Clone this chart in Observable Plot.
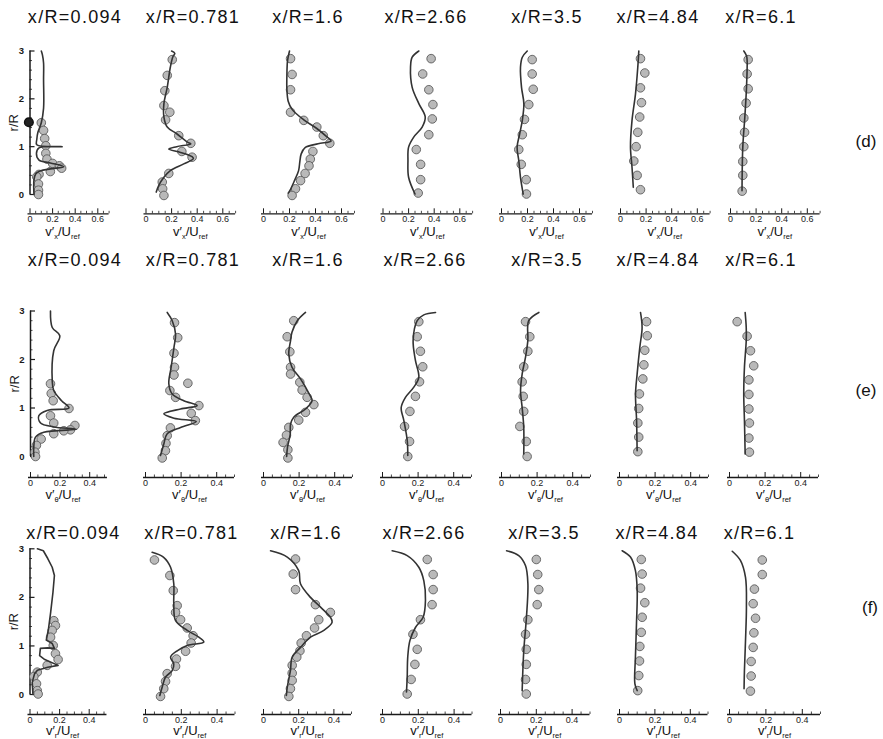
<!DOCTYPE html>
<html><head><meta charset="utf-8">
<script src="https://cdn.jsdelivr.net/npm/d3@7"></script>
<script src="https://cdn.jsdelivr.net/npm/@observablehq/plot@0.6"></script>
<style>
body{margin:0;background:#fff;}
#fig{position:relative;width:883px;height:739px;overflow:hidden;background:#fff;font-family:"Liberation Sans",Arial,Helvetica,sans-serif;color:#111;}
.ttl{position:absolute;font-size:18px;letter-spacing:1.3px;white-space:nowrap;transform:translate(-50%,-50%);line-height:1;}
.xl{position:absolute;font-size:13px;white-space:nowrap;transform:translate(-50%,-50%);line-height:1;}
.xl sub{font-size:7.5px;vertical-align:-3px;}
.tag{position:absolute;font-size:17px;transform:translate(-50%,-50%);line-height:1;}
.pl{position:absolute;}
.pl svg{display:block;overflow:visible;}
</style></head><body><div id="fig"></div>
<script>
// ---------- data ----------
const stations = ["0.094","0.781","1.6","2.66","3.5","4.84","6.1"];
const rowTags = ["(d)","(e)","(f)"];
const xComponents = ["x","θ","r"];
const xTickLabels = [[0,0.2,0.4,0.6],[0,0.2,0.4],[0,0.2,0.4]];
const yTickLabels = [0,1,2,3];

// row (d): v'_x/U_ref   [value, r/R]
const dLines = [
 [[0.10,3.0],[0.11,2.92],[0.12,2.75],[0.12,2.4],[0.12,1.8],[0.10,1.5],[0.07,1.3],[0.06,1.15],[0.06,1.04],[0.285,1.0],[0.08,0.975],[0.057,0.86],[0.08,0.72],[0.18,0.66],[0.30,0.58],[0.18,0.535],[0.09,0.49],[0.05,0.43],[0.035,0.3],[0.035,0.0]],
 [[0.20,3.0],[0.225,2.95],[0.21,2.88],[0.19,2.66],[0.166,2.24],[0.14,1.9],[0.14,1.62],[0.166,1.41],[0.24,1.27],[0.32,1.1],[0.35,1.06],[0.24,1.0],[0.178,0.95],[0.27,0.88],[0.36,0.79],[0.37,0.75],[0.295,0.64],[0.19,0.50],[0.14,0.36],[0.10,0.19],[0.08,0.05]],
 [[0.20,3.0],[0.185,2.8],[0.18,2.5],[0.18,2.2],[0.19,1.95],[0.22,1.78],[0.31,1.56],[0.41,1.38],[0.49,1.2],[0.52,1.12],[0.42,1.06],[0.32,0.98],[0.29,0.85],[0.28,0.7],[0.27,0.5],[0.24,0.3],[0.21,0.12],[0.19,0.03]],
 [[0.28,3.0],[0.228,2.87],[0.215,2.66],[0.228,2.24],[0.28,1.9],[0.33,1.62],[0.306,1.41],[0.24,1.2],[0.20,0.99],[0.195,0.71],[0.20,0.36],[0.25,0.01]],
 [[0.198,3.0],[0.16,2.87],[0.146,2.66],[0.154,2.24],[0.172,1.9],[0.16,1.55],[0.14,1.27],[0.12,0.99],[0.133,0.71],[0.146,0.36],[0.167,0.01]],
 [[0.143,3.0],[0.135,2.66],[0.117,2.1],[0.09,1.55],[0.078,0.99],[0.09,0.57],[0.10,0.15]],
 [[0.104,3.0],[0.125,2.9],[0.13,2.8],[0.125,2.24],[0.112,1.62],[0.096,0.99],[0.09,0.08]]
];
const dPoints = [
 [[0.10,1.50],[0.12,1.34],[0.13,1.17],[0.14,1.02],[0.14,0.86],[0.15,0.74],[0.20,0.65],[0.26,0.60],[0.28,0.55],[0.18,0.48],[0.08,0.42],[0.06,0.37],[0.075,0.22],[0.075,0.09],[0.075,0.0]],
 [[0.205,2.82],[0.166,2.49],[0.147,2.17],[0.14,1.86],[0.186,1.72],[0.153,1.56],[0.256,1.23],[0.35,1.07],[0.28,0.90],[0.36,0.78],[0.178,0.44],[0.127,0.26],[0.13,0.12],[0.14,-0.02]],
 [[0.208,2.84],[0.22,2.51],[0.208,2.19],[0.208,1.72],[0.31,1.55],[0.41,1.41],[0.46,1.23],[0.51,1.07],[0.38,0.90],[0.36,0.74],[0.35,0.60],[0.32,0.44],[0.285,0.29],[0.246,0.12],[0.22,-0.02]],
 [[0.376,2.84],[0.31,2.52],[0.358,2.19],[0.39,1.88],[0.385,1.58],[0.358,1.25],[0.26,0.94],[0.294,0.63],[0.294,0.31],[0.275,0.03]],
 [[0.236,2.82],[0.236,2.52],[0.244,2.2],[0.21,1.88],[0.177,1.57],[0.16,1.25],[0.133,0.94],[0.152,0.63],[0.19,0.31],[0.192,0.01]],
 [[0.156,2.84],[0.19,2.54],[0.156,2.23],[0.164,1.92],[0.15,1.62],[0.135,1.3],[0.122,1.0],[0.104,0.70],[0.13,0.40],[0.156,0.10]],
 [[0.138,2.82],[0.13,2.52],[0.138,2.21],[0.122,1.91],[0.104,1.6],[0.11,1.3],[0.104,1.0],[0.096,0.69],[0.096,0.40],[0.091,0.07]]
];
const dMarked = [[-0.01,1.51]];

// row (e): v'_θ/U_ref
const eLines = [
 [[0.135,3.0],[0.147,2.66],[0.198,2.49],[0.157,2.18],[0.147,1.56],[0.157,1.36],[0.21,1.15],[0.26,1.0],[0.113,0.95],[0.056,0.84],[0.068,0.69],[0.157,0.61],[0.31,0.56],[0.09,0.5],[0.034,0.4],[0.022,0.19],[0.022,0.0]],
 [[0.122,2.97],[0.15,2.8],[0.169,2.52],[0.16,2.25],[0.144,1.84],[0.131,1.5],[0.15,1.29],[0.215,1.15],[0.29,1.05],[0.197,0.98],[0.103,0.88],[0.16,0.79],[0.285,0.72],[0.197,0.60],[0.122,0.47],[0.103,0.26],[0.084,0.02]],
 [[0.236,2.97],[0.19,2.8],[0.16,2.56],[0.152,2.39],[0.142,2.11],[0.16,1.84],[0.208,1.6],[0.255,1.3],[0.273,1.15],[0.236,0.98],[0.17,0.81],[0.152,0.67],[0.15,0.45],[0.135,0.2],[0.13,0.0]],
 [[0.298,2.97],[0.232,2.92],[0.195,2.8],[0.172,2.39],[0.185,1.98],[0.204,1.63],[0.176,1.43],[0.129,1.22],[0.105,1.01],[0.12,0.74],[0.139,0.33],[0.142,0.02]],
 [[0.21,2.97],[0.153,2.8],[0.148,2.39],[0.135,2.05],[0.116,1.7],[0.107,1.36],[0.116,1.01],[0.125,0.6],[0.125,0.05]],
 [[0.118,2.97],[0.127,2.66],[0.114,2.25],[0.099,1.7],[0.09,1.29],[0.096,0.74],[0.099,0.12]],
 [[0.088,2.97],[0.094,2.66],[0.094,2.39],[0.084,1.84],[0.08,1.29],[0.084,0.74],[0.088,0.05]]
];
const ePoints = [
 [[0.135,1.5],[0.14,1.3],[0.153,1.15],[0.26,0.99],[0.135,0.84],[0.157,0.69],[0.30,0.64],[0.27,0.55],[0.225,0.53],[0.157,0.47],[0.072,0.36],[0.04,0.23],[0.03,0.09],[0.034,0.0]],
 [[0.163,2.76],[0.181,2.45],[0.16,2.13],[0.163,1.84],[0.16,1.68],[0.238,1.51],[0.137,1.36],[0.169,1.22],[0.30,1.05],[0.257,0.89],[0.28,0.74],[0.14,0.59],[0.122,0.43],[0.115,0.27],[0.112,0.12],[0.094,-0.03]],
 [[0.17,2.8],[0.133,2.47],[0.148,2.16],[0.152,1.84],[0.152,1.7],[0.204,1.53],[0.217,1.37],[0.245,1.22],[0.283,1.07],[0.236,0.91],[0.198,0.75],[0.142,0.6],[0.129,0.44],[0.11,0.29],[0.137,0.14],[0.137,-0.03]],
 [[0.204,2.78],[0.195,2.47],[0.213,2.17],[0.226,1.85],[0.208,1.54],[0.185,1.24],[0.154,0.93],[0.124,0.62],[0.152,0.31],[0.142,0.0]],
 [[0.135,2.78],[0.159,2.47],[0.148,2.17],[0.125,1.85],[0.116,1.54],[0.122,1.24],[0.125,0.93],[0.103,0.62],[0.139,0.31],[0.144,0.0]],
 [[0.152,2.78],[0.156,2.49],[0.142,2.19],[0.137,1.89],[0.131,1.6],[0.112,1.29],[0.108,0.99],[0.103,0.69],[0.108,0.40],[0.103,0.1]],
 [[0.043,2.78],[0.099,2.48],[0.118,2.18],[0.136,1.87],[0.109,1.58],[0.109,1.28],[0.109,0.98],[0.112,0.69],[0.109,0.38],[0.112,0.09]]
];

// row (f): v'_r/U_ref
const fLines = [
 [[0.05,3.0],[0.09,2.96],[0.12,2.8],[0.15,2.62],[0.165,2.45],[0.155,2.1],[0.14,1.7],[0.125,1.35],[0.11,1.12],[0.15,1.05],[0.165,0.95],[0.12,0.96],[0.07,0.95],[0.065,0.8],[0.1,0.72],[0.19,0.6],[0.12,0.56],[0.05,0.5],[0.03,0.42],[0.015,0.25],[0.02,0.0]],
 [[0.037,2.93],[0.10,2.83],[0.14,2.62],[0.158,2.28],[0.158,1.87],[0.168,1.52],[0.233,1.32],[0.298,1.18],[0.326,1.08],[0.233,1.01],[0.177,0.90],[0.14,0.77],[0.158,0.63],[0.149,0.49],[0.112,0.36],[0.093,0.15],[0.08,-0.02]],
 [[0.04,2.96],[0.135,2.83],[0.20,2.55],[0.21,2.28],[0.267,2.0],[0.324,1.8],[0.38,1.59],[0.39,1.49],[0.343,1.32],[0.267,1.18],[0.21,0.97],[0.163,0.77],[0.153,0.49],[0.135,0.15],[0.13,-0.02]],
 [[0.054,2.96],[0.138,2.86],[0.203,2.62],[0.231,2.34],[0.24,1.94],[0.227,1.59],[0.184,1.38],[0.153,1.11],[0.141,0.77],[0.138,0.36],[0.134,0.05]],
 [[0.034,2.96],[0.102,2.86],[0.14,2.65],[0.153,2.28],[0.145,1.59],[0.13,0.9],[0.121,0.08]],
 [[0.015,2.96],[0.062,2.83],[0.09,2.55],[0.10,2.14],[0.096,1.46],[0.09,0.77],[0.087,0.22],[0.10,0.08]],
 [[0.015,2.95],[0.06,2.76],[0.088,2.41],[0.093,1.8],[0.088,1.11],[0.082,0.49],[0.08,0.12]]
];
const fPoints = [
 [[0.161,1.52],[0.172,1.42],[0.15,1.32],[0.139,1.18],[0.157,1.01],[0.172,0.84],[0.19,0.72],[0.116,0.60],[0.049,0.46],[0.026,0.37],[0.044,0.22],[0.049,0.08],[0.055,0.01]],
 [[0.05,2.77],[0.136,2.45],[0.155,2.14],[0.177,1.83],[0.168,1.69],[0.196,1.54],[0.233,1.37],[0.266,1.21],[0.255,1.06],[0.224,0.89],[0.173,0.73],[0.168,0.58],[0.121,0.43],[0.112,0.27],[0.102,0.12],[0.084,-0.04]],
 [[0.182,2.79],[0.169,2.48],[0.182,2.16],[0.295,1.85],[0.38,1.69],[0.314,1.54],[0.29,1.37],[0.244,1.21],[0.214,1.06],[0.207,0.90],[0.189,0.77],[0.163,0.6],[0.163,0.44],[0.163,0.29],[0.153,0.12],[0.144,-0.04]],
 [[0.25,2.78],[0.283,2.47],[0.283,2.16],[0.277,1.85],[0.212,1.54],[0.17,1.24],[0.194,0.93],[0.181,0.62],[0.16,0.31],[0.138,0.01]],
 [[0.20,2.78],[0.208,2.47],[0.214,2.16],[0.205,1.85],[0.153,1.54],[0.14,1.24],[0.144,0.93],[0.144,0.62],[0.14,0.31],[0.144,0.01]],
 [[0.123,2.78],[0.128,2.48],[0.119,2.19],[0.143,1.89],[0.128,1.59],[0.123,1.28],[0.115,0.99],[0.113,0.69],[0.109,0.39],[0.103,0.08]],
 [[0.18,2.77],[0.18,2.47],[0.137,2.17],[0.13,1.87],[0.143,1.57],[0.134,1.27],[0.13,0.97],[0.119,0.68],[0.119,0.38],[0.115,0.07]]
];

// ---------- layout (pixels) ----------
const rowGeom = [
 {title:17,  r0:194, r3:50.5,  axis:213.3, xlab:233, tag:[866,141]},
 {title:260, r0:456, r3:310.5, axis:477,   xlab:496, tag:[866,390]},
 {title:533, r0:694, r3:548.3, axis:714,   xlab:732, tag:[870,607]}
];
const titleX = [[75,193,308,426,547,658,761],[75,193,308,425,547,658,761],[73.5,191.5,306,424,544,657,759.5]];
const panelX0 = [[29.5,145.5,263,382.5,501,620,730],[30,145,263,382,501,619,729],[29.5,145,263,382,500,619,729]];
const panelK = [[113,128,130,128,130,128,128],[148,178,178,178,178,178,178],[148,179,176,179,179,177,182]];
const rowXMax = [0.7,0.5,0.5];
const firstXMax = [0.7,0.52,0.52];

const allLines = [dLines, eLines, fLines];
const allPoints = [dPoints, ePoints, fPoints];

const fig = document.getElementById("fig");
function addDiv(cls, html, x, y){
  const d = document.createElement("div");
  d.className = cls; d.innerHTML = html;
  d.style.left = x + "px"; d.style.top = y + "px";
  fig.appendChild(d);
}

const FONT = '"Liberation Sans", Arial, Helvetica, sans-serif';
const INK = "#1a1a1a";

rowGeom.forEach((g, ri) => {
  addDiv("tag", rowTags[ri], g.tag[0], g.tag[1]);
  stations.forEach((s, i) => {
    addDiv("ttl", "x/R=" + s, titleX[ri][i], g.title);
    const x0 = panelX0[ri][i], k = panelK[ri][i];
    const xmax = i === 0 ? firstXMax[ri] : rowXMax[ri];
    const pxPerR = (g.r0 - g.r3) / 3;
    const yMin = -(g.axis - g.r0) / pxPerR;
    const top = Math.floor(g.r3 - 14);
    const mT = g.r3 - top;
    const height = Math.ceil(g.axis - top + 30);
    const mB = height - (g.axis - top);
    const frameW = xmax * k;
    const left = Math.floor(x0 - 38);
    const mL = x0 - left;
    const width = Math.ceil(mL + frameW + 12);
    const mR = width - mL - frameW;

    const majorX = xTickLabels[ri];
    const minorX = d3.range(0, xmax + 1e-9, 0.05).map(v => +v.toFixed(3)).filter(v => !majorX.some(m => Math.abs(m - v) < 1e-6));
    const marks = [
      Plot.ruleY([yMin], {x1: -2 / k, x2: xmax, stroke: INK, strokeWidth: 1.3}),
      Plot.ruleX(majorX, {x: d => d, y1: yMin, y2: yMin + 5 / pxPerR, stroke: INK, strokeWidth: 1}),
      Plot.ruleX(minorX, {x: d => d, y1: yMin, y2: yMin + 2.5 / pxPerR, stroke: INK, strokeWidth: 0.8}),
      Plot.axisX({ticks: majorX, tickSize: 0, tickPadding: 2, fontSize: 9, label: null,
                  tickFormat: d => d === 0 ? "0" : String(d)})
    ];
    if (i === 0) {
      const minorY = d3.range(0, 3.001, 0.2).map(v => +v.toFixed(2)).filter(v => !yTickLabels.some(m => Math.abs(m - v) < 1e-6));
      marks.push(
        Plot.ruleX([0], {y1: 0, y2: 3, stroke: INK, strokeWidth: 1.5}),
        Plot.ruleY(yTickLabels, {y: d => d, x1: 0, x2: 5 / k, stroke: INK, strokeWidth: 1.2}),
        Plot.ruleY(minorY, {y: d => d, x1: 0, x2: 2.5 / k, stroke: INK, strokeWidth: 0.8}),
        Plot.axisY({ticks: yTickLabels, tickSize: 0, tickPadding: 6, fontSize: 9.5, fontWeight: "bold", label: null,
                    tickFormat: d => String(d)}),
        Plot.text(["r/R"], {x: 0, y: 1.5, dx: -16, rotate: -90, fontSize: 13, fill: INK})
      );
    }
    marks.push(
      Plot.dot(allPoints[ri][i], {x: d => d[0], y: d => d[1], r: 4.3, fill: "#b9b9b9", stroke: "#5c5c5c", strokeWidth: 0.9})
    );
    if (ri === 0 && i === 0) {
      marks.push(Plot.dot(dMarked, {x: d => d[0], y: d => d[1], r: 4.3, fill: "#222", stroke: "#111"}));
    }
    marks.push(
      Plot.line(allLines[ri][i], {x: d => d[0], y: d => d[1], stroke: "#333", strokeWidth: 1.6,
        curve: (ri === 2 && i === 0) ? "linear" : "catmull-rom"})
    );

    const svg = Plot.plot({
      width, height,
      marginTop: mT, marginBottom: mB, marginLeft: mL, marginRight: mR,
      x: {domain: [0, xmax], axis: null},
      y: {domain: [yMin, 3], axis: null},
      style: {background: "transparent", overflow: "visible", fontFamily: FONT, color: INK},
      marks
    });
    const wrap = document.createElement("div");
    wrap.className = "pl";
    wrap.style.left = left + "px";
    wrap.style.top = top + "px";
    wrap.appendChild(svg);
    fig.appendChild(wrap);

    const lx = i === 0 ? x0 + 33 : x0 + frameW / 2;
    addDiv("xl", "v′<sub>" + xComponents[ri] + "</sub>/U<sub>ref</sub>", lx, g.xlab);
  });
});
</script>
</body></html>
